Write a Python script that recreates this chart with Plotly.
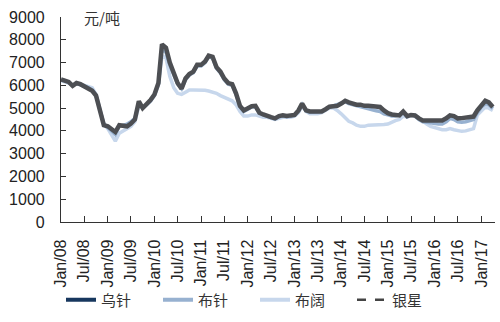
import plotly.graph_objects as go
import pandas as pd

# Monthly pulp prices, Jan 2008 - Apr 2017 (元/吨)
months = pd.date_range("2008-01-01", "2017-04-01", freq="MS")

wu_zhen = [
    6260, 6220, 6150, 5980, 6100, 6050, 5950, 5880, 5760, 5550, 4850, 4250,
    4200, 4050, 3950, 4250, 4220, 4200, 4320, 4500, 5300, 5000, 5180, 5350,
    5600, 6100, 7800, 7650, 7000, 6600, 6100, 5850, 6300, 6500, 6600, 6900,
    6900, 7050, 7300, 7250, 6800, 6600, 6300, 6100, 6050, 5650, 5100, 4900,
    5000, 5080, 5100, 4800, 4720, 4680, 4600, 4550, 4650, 4680, 4650, 4680,
    4700, 4900, 5200, 4900, 4850, 4850, 4850, 4850, 4950, 5060, 5080, 5100,
    5200, 5320, 5250, 5190, 5150, 5150, 5100, 5100, 5080, 5060, 5050, 4900,
    4780, 4720, 4680, 4680, 4850, 4650, 4700, 4680, 4550, 4460, 4460, 4450,
    4460, 4460, 4460, 4550, 4680, 4650, 4550, 4560, 4580, 4600, 4630, 4900,
    5150, 5320, 5250, 5050,
]

bu_zhen = [
    6230, 6200, 6120, 6000, 6080, 6030, 5980, 5900, 5800, 5560, 4900, 4300,
    4150, 4000, 3850, 4200, 4250, 4300, 4400, 4550, 5200, 5000, 5150, 5320,
    5580, 6050, 7600, 7450, 6900, 6500, 6050, 5850, 6250, 6450, 6550, 6850,
    6850, 7000, 7250, 7200, 6750, 6550, 6250, 6050, 6000, 5600, 5050, 4850,
    4950, 5050, 5050, 4780, 4700, 4650, 4580, 4520, 4620, 4650, 4620, 4650,
    4680, 4880, 5150, 4880, 4820, 4820, 4830, 4850, 4950, 5050, 5100, 5150,
    5230, 5280, 5200, 5150, 5100, 5080, 5000, 4950, 4900, 4880, 4850, 4750,
    4700, 4650, 4650, 4700, 4800, 4620, 4680, 4650, 4500, 4400, 4380, 4350,
    4350, 4300, 4300, 4400, 4550, 4500, 4400, 4380, 4400, 4450, 4500, 4800,
    5050, 5200, 5150, 4980,
]

bu_kuo = [
    6200, 6150, 6100, 6000, 6080, 6050, 6000, 5950, 5900, 5600, 4900, 4300,
    4100, 3800, 3550, 3900, 4000, 4100, 4200, 4400, 5100, 5000, 5150, 5300,
    5550, 6000, 7300, 7200, 6400, 5900, 5650, 5600, 5700, 5800, 5800, 5800,
    5780, 5780, 5750, 5700, 5650, 5550, 5480, 5400, 5320, 5150, 4850, 4650,
    4650, 4700, 4700, 4650, 4600, 4600, 4550, 4500, 4550, 4600, 4600, 4600,
    4650, 4800, 5100, 4850, 4750, 4750, 4750, 4800, 4900, 5000, 5000, 4900,
    4750, 4600, 4420, 4350, 4250, 4200, 4200, 4250, 4250, 4250, 4250, 4280,
    4300, 4400, 4450, 4500, 4650, 4600, 4700, 4700, 4550, 4450, 4300, 4200,
    4150, 4100, 4050, 4050, 4100, 4050, 4000, 3980, 4000, 4050, 4100, 4700,
    4900, 5050, 5000, 4900,
]

tick_dates = pd.date_range("2008-01-01", "2017-01-01", freq="6MS")
tick_text = [d.strftime("%b/%y") for d in tick_dates]
y_ticks = list(range(0, 9001, 1000))

NAVY = "#17375e"
MID = "#97b1d0"
LIGHT = "#c7d7ec"
DARK = "#4d4f53"

fig = go.Figure()

fig.add_trace(go.Scatter(x=months, y=bu_kuo, mode="lines", name="布阔",
                         line=dict(color=LIGHT, width=3.5), showlegend=False))
fig.add_trace(go.Scatter(x=months, y=bu_zhen, mode="lines", name="布针",
                         line=dict(color=MID, width=3.5), showlegend=False))
fig.add_trace(go.Scatter(x=months, y=wu_zhen, mode="lines", name="乌针",
                         line=dict(color=DARK, width=4.5), showlegend=False))

# legend entries
legend_items = [
    ("乌针", dict(color=NAVY, width=4)),
    ("布针", dict(color=MID, width=4)),
    ("布阔", dict(color=LIGHT, width=4)),
    ("银星", dict(color="#444444", width=2.5, dash="dash")),
]
for rank, (label, style) in enumerate(legend_items):
    fig.add_trace(go.Scatter(x=[None], y=[None], mode="lines", name=label,
                             line=style, legendrank=rank + 1))

fig.update_layout(
    width=500, height=322,
    margin=dict(l=61, r=5, t=17, b=96),
    paper_bgcolor="white", plot_bgcolor="white",
    font=dict(family="Liberation Sans, Arial", size=16, color="#222222"),
    showlegend=True,
    legend=dict(orientation="h", x=0.0, xanchor="left", y=-0.38, yanchor="middle",
                font=dict(family="Noto Sans CJK SC", size=15, color="#333333"),
                entrywidth=52, entrywidthmode="pixels", traceorder="normal",
                bgcolor="rgba(0,0,0,0)"),
    xaxis=dict(
        type="date", automargin=False,
        range=["2008-01-01", "2017-04-18"],
        tickvals=tick_dates, ticktext=tick_text, tickangle=-90,
        ticks="inside", ticklen=6, tickcolor="#333333",
        ticklabelstandoff=10,
        showline=True, linecolor="#333333", linewidth=1.2,
        showgrid=False, zeroline=False,
        tickfont=dict(size=16),
    ),
    yaxis=dict(
        automargin=False,
        range=[0, 9000], tickvals=y_ticks,
        ticks="inside", ticklen=5, tickcolor="#333333",
        ticklabelstandoff=12,
        showline=True, linecolor="#333333", linewidth=1.2,
        showgrid=False, zeroline=False,
        tickfont=dict(size=16),
    ),
    annotations=[dict(
        text="元/吨", xref="paper", yref="paper", x=0.048, y=1.0,
        xanchor="left", yanchor="middle", showarrow=False,
        font=dict(family="Noto Sans CJK SC", size=15, color="#333333"),
    )],
)

fig.write_html("out.html")
